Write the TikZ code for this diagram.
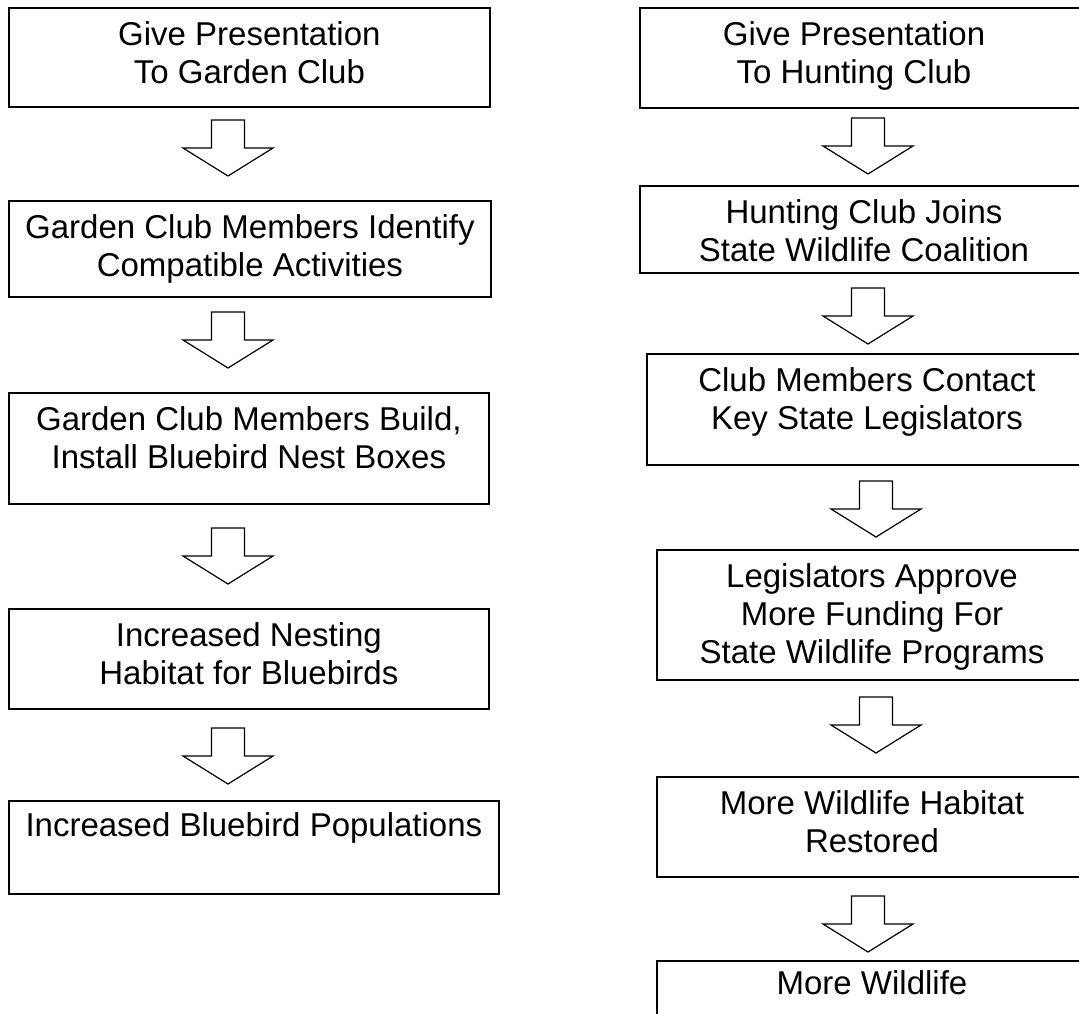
\documentclass[tikz,border=0pt]{standalone}
\usepackage{fontspec}
\setmainfont{Liberation Sans}
% raise the first baseline of each box label to a fixed distance below the box top
\newcommand\firstline{\rule{0pt}{38pt}}
\begin{document}
\begin{tikzpicture}[x=1pt,y=1pt,
  stepbox/.style={draw=black, line width=1.8pt, rectangle, inner sep=0pt, anchor=north west},
  steptext/.style={font=\fontsize{33}{38}\selectfont, align=center, inner sep=0pt, anchor=north},
  blockarrow/.pic={\draw[line width=1.2pt, line join=miter]
    (-16.5,0) -- (16.5,0) -- (16.5,-28) -- (45,-28) -- (0,-56)
    -- (-45,-28) -- (-16.5,-28) -- cycle;}
]
\useasboundingbox (0,0) rectangle (1079,-1013);
\clip (0,0) rectangle (1079,-1013);

% ---------- garden club chain ----------
\node[stepbox, minimum width=481pt, minimum height=99pt]  (L1) at (8,-7)   {};
\node[stepbox, minimum width=482pt, minimum height=96pt]  (L2) at (8,-200) {};
\node[stepbox, minimum width=480pt, minimum height=111pt] (L3) at (8,-392) {};
\node[stepbox, minimum width=480pt, minimum height=100pt] (L4) at (8,-608) {};
\node[stepbox, minimum width=490pt, minimum height=93pt]  (L5) at (8,-800) {};

\node[steptext] (L1t) at (L1.north) {\firstline Give Presentation\\To Garden Club};
\node[steptext] (L2t) at (L2.north) {\firstline Garden Club Members Identify\\Compatible Activities};
\node[steptext] (L3t) at (L3.north) {\firstline Garden Club Members Build,\\Install Bluebird Nest Boxes};
\node[steptext] (L4t) at (L4.north) {\firstline Increased Nesting\\Habitat for Bluebirds};
\node[steptext] (L5t) at ([yshift=2pt]L5.north) {\firstline Increased Bluebird Populations};

\pic at (228,-120) {blockarrow};
\pic at (228,-312) {blockarrow};
\pic at (228,-528) {blockarrow};
\pic at (228,-728) {blockarrow};

% ---------- hunting club chain ----------
\node[stepbox, minimum width=451pt, minimum height=100pt] (R1) at (639,-7)   {};
\node[stepbox, minimum width=451pt, minimum height=87pt]  (R2) at (639,-185) {};
\node[stepbox, minimum width=444pt, minimum height=111pt] (R3) at (646,-353) {};
\node[stepbox, minimum width=434pt, minimum height=130pt] (R4) at (656,-549) {};
\node[stepbox, minimum width=434pt, minimum height=100pt] (R5) at (656,-776) {};
\node[stepbox, minimum width=434pt, minimum height=80pt]  (R6) at (656,-960) {};

\node[steptext] (R1t) at (854,-7)   {\firstline Give Presentation\\To Hunting Club};
\node[steptext] (R2t) at (864,-185) {\firstline Hunting Club Joins\\State Wildlife Coalition};
\node[steptext] (R3t) at (867,-353) {\firstline Club Members Contact\\Key State Legislators};
\node[steptext] (R4t) at (872,-549) {\firstline Legislators Approve\\More Funding For\\State Wildlife Programs};
\node[steptext] (R5t) at (872,-776) {\firstline More Wildlife Habitat\\Restored};
\node[steptext] (R6t) at (872,-956) {\firstline More Wildlife};

\pic at (868,-118) {blockarrow};
\pic at (868,-288) {blockarrow};
\pic at (876,-481) {blockarrow};
\pic at (876,-697) {blockarrow};
\pic at (868,-896) {blockarrow};
\end{tikzpicture}
\end{document}
